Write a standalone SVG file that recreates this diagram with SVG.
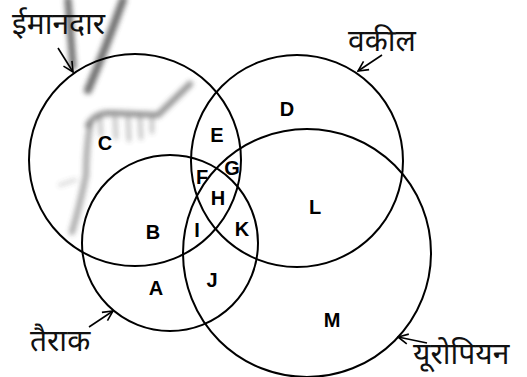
<svg xmlns="http://www.w3.org/2000/svg" width="527" height="377" viewBox="0 0 527 377">
<style>
.c{fill:none;stroke:#000;stroke-width:2}
.l{font-family:"Liberation Sans",Arial,sans-serif;font-weight:bold;font-size:20px;fill:#000;text-anchor:middle;dominant-baseline:central}
.t{font-family:"Noto Sans Devanagari","Noto Sans","Lohit Devanagari",sans-serif;font-size:30px;fill:#111}
.a{fill:none;stroke:#000;stroke-width:1.6}
.s{fill:none;stroke:#444;stroke-linecap:round;stroke-linejoin:round}
</style>
<defs>
<marker id="ah" viewBox="0 0 12 12" refX="11" refY="6" markerWidth="12" markerHeight="12" markerUnits="userSpaceOnUse" orient="auto">
<path d="M1,1 L11,6 L1,11" fill="none" stroke="#000" stroke-width="1.6"/>
</marker>
<filter id="blur" x="-20%" y="-20%" width="140%" height="140%">
<feGaussianBlur stdDeviation="2.5"/>
</filter>
</defs>
<rect width="527" height="377" fill="#fff"/>
<g id="smudge" filter="url(#blur)" opacity="0.75">
<path class="s" d="M68,0 L73,66" stroke-width="7"/>
<path class="s" d="M123,0 Q105,50 88,90" stroke-width="8"/>
<path class="s" d="M88,125 Q95,113 110,113 L158,115 L190,84" stroke-width="6" opacity="0.75"/>
<path class="s" d="M100,118 L101,135 M115,118 L116,138 M128,118 L129,140 M140,118 L141,138 M152,118 L152,132" stroke-width="4" opacity="0.45"/>
<path class="s" d="M90,125 Q86,150 86,175 Q80,205 72,232" stroke-width="6" opacity="0.6"/>
<path class="s" d="M60,185 L75,180" stroke-width="4" opacity="0.25"/>
</g>
<g id="circle-honest"><circle class="c" cx="135" cy="160" r="106"/></g>
<g id="circle-lawyer"><circle class="c" cx="297" cy="161" r="106"/></g>
<g id="circle-swimmer"><circle class="c" cx="170" cy="243" r="88"/></g>
<g id="circle-european"><circle class="c" cx="307" cy="253" r="124"/></g>
<g id="regions">
<text class="l" x="105" y="143">C</text>
<text class="l" x="153" y="232">B</text>
<text class="l" x="217" y="135">E</text>
<text class="l" x="202" y="177">F</text>
<text class="l" x="232" y="168">G</text>
<text class="l" x="218" y="198">H</text>
<text class="l" x="197" y="230">I</text>
<text class="l" x="242" y="229">K</text>
<text class="l" x="287" y="109">D</text>
<text class="l" x="156" y="288">A</text>
<text class="l" x="212" y="280">J</text>
<text class="l" x="315" y="207">L</text>
<text class="l" x="332" y="320">M</text>
</g>
<g id="label-honest"><text class="t" x="12" y="34">ईमानदार</text></g>
<g id="label-lawyer"><text class="t" x="348" y="51">वकील</text></g>
<g id="label-swimmer"><text class="t" x="30" y="351">तैराक</text></g>
<g id="label-european"><text class="t" x="413" y="364">यूरोपियन</text></g>
<g id="connectors">
<line class="a" x1="58" y1="48" x2="73" y2="72" marker-end="url(#ah)"/>
<line class="a" x1="382" y1="55" x2="358" y2="71" marker-end="url(#ah)"/>
<line class="a" x1="89" y1="327" x2="113" y2="311" marker-end="url(#ah)"/>
<line class="a" x1="427" y1="343" x2="398" y2="337" marker-end="url(#ah)"/>
</g>
</svg>
